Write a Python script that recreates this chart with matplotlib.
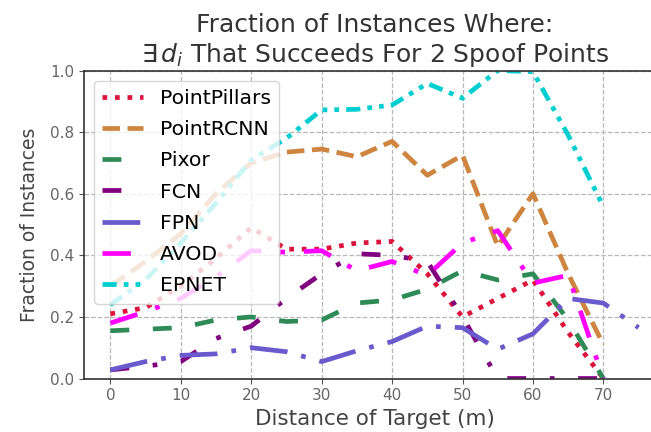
import matplotlib
matplotlib.use("Agg")
import matplotlib.pyplot as plt

# distance of target (m) for each evaluated setting
dist = [0, 5, 10, 15, 20, 25, 30, 35, 40, 45, 50, 55, 60, 65, 70]
dist_fpn = [0, 5, 10, 15, 20, 25, 30, 35, 40, 45, 50, 55, 60, 65, 70, 75]

pointpillars = [0.21, 0.23, 0.30, 0.39, 0.49, 0.42, 0.42, 0.44, 0.445, 0.34, 0.20, 0.26, 0.32, 0.15, 0.0]
pointrcnn = [0.30, 0.38, 0.47, 0.60, 0.70, 0.735, 0.745, 0.72, 0.77, 0.66, 0.725, 0.43, 0.60, 0.34, 0.11]
pixor = [0.155, 0.16, 0.165, 0.19, 0.20, 0.185, 0.19, 0.245, 0.255, 0.29, 0.35, 0.32, 0.34, 0.19, 0.0]
fcn = [0.028, 0.04, 0.055, 0.13, 0.17, 0.26, 0.34, 0.405, 0.40, 0.38, 0.20, 0.0, 0.0, 0.0, 0.0]
fpn = [0.028, 0.055, 0.075, 0.08, 0.10, 0.087, 0.055, 0.09, 0.12, 0.17, 0.165, 0.095, 0.145, 0.26, 0.245, 0.165]
avod = [0.18, 0.217, 0.26, 0.33, 0.415, 0.41, 0.415, 0.35, 0.38, 0.335, 0.44, 0.48, 0.31, 0.335, 0.0]
epnet = [0.24, 0.32, 0.44, 0.57, 0.71, 0.78, 0.872, 0.874, 0.888, 0.958, 0.91, 1.0, 0.996, 0.79, 0.558]

plt.rcParams["font.family"] = ["DejaVu Sans"]

fig = plt.figure(figsize=(6.51, 4.32), dpi=100)
ax = fig.add_axes([0.129, 0.1238, 0.8925, 0.713])

lw = 3.4
ax.plot(dist, pointpillars, color="crimson", linestyle=":", lw=lw, label="PointPillars")
ax.plot(dist, pointrcnn, color="peru", linestyle="--", lw=lw, label="PointRCNN")
ax.plot(dist, pixor, color="seagreen", linestyle=(0, (4, 5)), lw=lw, label="Pixor")
ax.plot(dist, fcn, color="purple", linestyle=(0, (4, 5, 1, 5)), lw=lw, label="FCN")
ax.plot(dist_fpn, fpn, color="slateblue", linestyle=(0, (8, 3, 1, 3)), lw=lw, label="FPN")
ax.plot(dist, avod, color="magenta", linestyle=(0, (6, 4, 1, 4)), lw=lw, label="AVOD")
ax.plot(dist, epnet, color="darkturquoise", linestyle=(0, (3, 1.5, 1, 1.5, 1, 1.5)), lw=lw, label="EPNET")

ax.set_xlim(-3.75, 78.75)
ax.set_ylim(0, 1.0)
ax.set_xticks(range(0, 71, 10))
ax.set_yticks([0.0, 0.2, 0.4, 0.6, 0.8, 1.0])
ax.grid(True, linestyle="--", color="#b8b8b8", lw=0.9)
ax.tick_params(labelsize=11, labelcolor="#666666", color="#555555")
for s in ax.spines.values():
    s.set_color("#333333")
    s.set_linewidth(1.2)

ax.set_title("Fraction of Instances Where:\n$\\exists\\, d_i$ That Succeeds For 2 Spoof Points",
             fontsize=18, color="#333333")
ax.set_xlabel("Distance of Target (m)", fontsize=15.5, color="#444444")
ax.set_ylabel("Fraction of Instances", fontsize=13.5, color="#444444", labelpad=8)
ax.legend(loc="upper left", fontsize=14.7, framealpha=0.8, labelspacing=0.6)

fig.savefig("out.png", dpi=100)
